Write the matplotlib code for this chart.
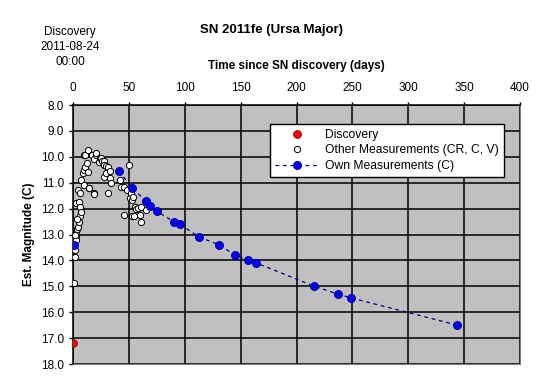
import matplotlib.pyplot as plt
import numpy as np

plt.rcParams['font.family'] = ['Liberation Sans', 'DejaVu Sans']

disc_day = [0.0]
disc_mag = [17.2]

other_day = [0.5, 1.8, 2.5, 2.6, 2.7, 3.0, 3.2, 4.2, 4.2, 5.0, 5.0, 6.0, 6.5, 6.5, 7.0, 7.1,
             8.9, 9.5, 9.5, 10.0, 10.7, 11.0, 12.5, 13.0, 13.0, 14.0, 14.6, 17.0, 18.4, 18.4,
             19.0, 20.5, 20.8, 23.5, 23.8, 25.0, 25.9, 27.3, 27.8, 28.0, 29.5, 29.5, 31.0,
             31.0, 32.7, 33.3, 34.2, 42.3, 42.9, 45.2, 45.2, 48.2, 50.3, 51.2, 51.8, 52.4,
             52.7, 53.3, 54.2, 55.7, 56.2, 58.6, 60.0, 60.7, 60.7, 65.0, 3.5, 2.2, 1.5]
other_mag = [14.86, 13.86, 12.95, 13.1, 11.8, 13.2, 12.8, 12.72, 11.28, 11.73, 12.5, 12.3,
             11.4, 11.93, 10.9, 12.12, 10.64, 10.5, 11.1, 9.93, 10.4, 9.93, 10.25, 9.74,
             10.57, 11.22, 11.2, 9.93, 10.1, 11.4, 11.44, 9.93, 9.85, 10.2, 10.06, 10.06,
             10.15, 10.15, 10.3, 10.77, 10.36, 10.64, 10.38, 11.4, 10.8, 10.54, 11.0, 10.9,
             11.15, 11.15, 12.25, 11.28, 10.32, 11.6, 11.4, 12.3, 11.67, 11.54, 12.3, 11.93,
             12.0, 11.99, 12.25, 11.93, 12.5, 12.05, 12.4, 13.0, 13.6]

own_day = [1.0, 41, 53, 65, 69, 75, 90, 95.5, 113, 131, 145, 157, 164, 216, 237, 249, 344]
own_mag = [13.4, 10.55, 11.2, 11.7, 11.9, 12.1, 12.5, 12.6, 13.1, 13.4, 13.8, 14.0, 14.1,
           15.0, 15.3, 15.45, 16.5]

fig = plt.figure(figsize=(5.44, 3.91), dpi=100)
ax = fig.add_axes([73 / 544, 1 - 364 / 391, 447 / 544, 259 / 391])
ax.set_facecolor('#C0C0C0')

ax.plot(disc_day, disc_mag, 'o', color='#FF0000', mec='#800000', mew=0.6, ms=5.6,
        label='Discovery', zorder=5)
ax.plot(other_day, other_mag, 'o', color='white', mec='black', mew=0.7, ms=4.5,
        label='Other Measurements (CR, C, V)', zorder=3)
# first own point is not joined to the rest by the line
ax.plot(own_day[:1], own_mag[:1], 'o', mfc='#0000FF', mec='#000080', mew=0.6, ms=5.8,
        zorder=4)
ax.plot(own_day[1:], own_mag[1:], '--o', color='#000080', lw=0.9, dashes=(3, 3),
        mfc='#0000FF', mec='#000080', mew=0.6, ms=5.8,
        label='Own Measurements (C)', zorder=4)

ax.set_xlim(0, 400)
ax.set_ylim(18, 8)
ax.set_xticks(np.arange(0, 401, 50))
ax.set_yticks(np.arange(8, 18.1, 1))
ax.set_yticklabels([f'{v:.1f}' for v in np.arange(8, 18.1, 1)])
ax.xaxis.tick_top()
ax.xaxis.set_label_position('top')
ax.grid(True, color='black', lw=1.1)
ax.set_axisbelow(True)
ax.tick_params(labelsize=8.5, length=3, width=1, color='black')
ax.tick_params(axis='x', length=2.5, pad=5.5)
for s in ['right', 'bottom']:
    ax.spines[s].set_color('#808080')
    ax.spines[s].set_linewidth(0.8)
for s in ['left', 'top']:
    ax.spines[s].set_linewidth(1.1)

ax.set_xlabel('Time since SN discovery (days)', fontsize=8.5, fontweight='bold', labelpad=9)
ax.set_ylabel('Est. Magnitude (C)', fontsize=8.5, fontweight='bold', labelpad=4)

fig.text(0.5, 1 - 30 / 391, 'SN 2011fe (Ursa Major)', ha='center', va='center',
         fontsize=9.5, fontweight='bold')
fig.text(70 / 544, 1 - 47 / 391, 'Discovery\n2011-08-24\n00:00', ha='center', va='center',
         fontsize=8.5, linespacing=1.3)

leg = ax.legend(loc='upper right', bbox_to_anchor=(0.964, 0.927), fontsize=8.7,
                fancybox=False, framealpha=1, edgecolor='black', borderpad=0.4,
                labelspacing=0.3, handlelength=3.7, handletextpad=0.5, borderaxespad=0)
leg.get_frame().set_linewidth(1)

fig.savefig('out.png', dpi=100)
